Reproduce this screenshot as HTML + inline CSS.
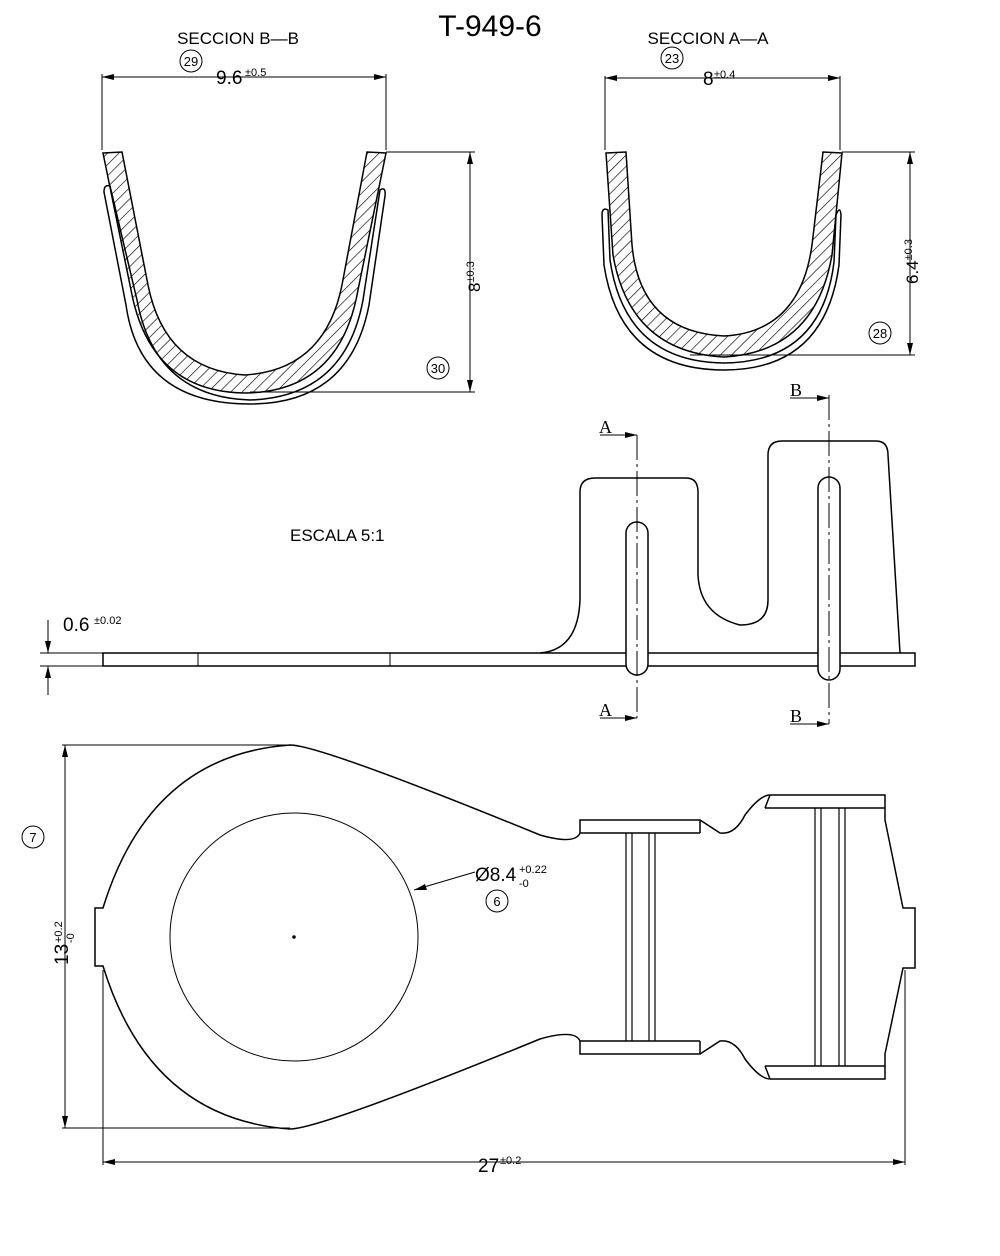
<!DOCTYPE html>
<html><head><meta charset="utf-8"><style>body{margin:0;background:#fff}svg{display:block}text{font-family:"Liberation Sans",sans-serif;fill:#000}</style></head><body>
<svg width="1000" height="1256" viewBox="0 0 1000 1256" xmlns="http://www.w3.org/2000/svg">
<defs>
<pattern id="h" width="8" height="8" patternUnits="userSpaceOnUse" patternTransform="rotate(45)"><line x1="0" y1="0" x2="0" y2="8" stroke="#000" stroke-width="1.3"/></pattern>
</defs>
<g fill="none" stroke="#000" stroke-width="1.5">
<text x="490" y="36" font-size="30" text-anchor="middle" stroke="none">T-949-6</text>
<text x="238" y="44" font-size="17" text-anchor="middle" stroke="none">SECCION  B—B</text>
<text x="708" y="44" font-size="17" text-anchor="middle" stroke="none">SECCION  A—A</text>
<circle cx="191" cy="61" r="11" stroke-width="1"/><text x="191" y="66" font-size="13" text-anchor="middle" stroke="none">29</text>
<circle cx="672" cy="58" r="11" stroke-width="1"/><text x="672" y="63" font-size="13" text-anchor="middle" stroke="none">23</text>
<!-- B-B -->
<g stroke-width="1">
<line x1="102" y1="77" x2="386" y2="77"/>
<path d="M102 74 V150 M386 74 V150 M386 152 H475 M250 392 H475"/>
<line x1="470" y1="152" x2="470" y2="392"/>
</g>
<path d="M114 74 L102 77 L114 80z M374 74 L386 77 L374 80z M467 164 L470 152 L473 164z M467 380 L470 392 L473 380z" fill="#000" stroke="none"/>
<text x="216" y="84" font-size="19" stroke="none">9.6</text><text x="245" y="76" font-size="11" stroke="none">±0.5</text>
<text transform="translate(480,292) rotate(-90)" font-size="17" stroke="none">8<tspan font-size="11" dy="-6">±0.3</tspan></text>
<circle cx="438" cy="368" r="11" stroke-width="1"/><text x="438" y="373" font-size="13" text-anchor="middle" stroke="none">30</text>
<path d="M103 153 L122 152 L148 285 Q165 370 245 375 Q325 370 342 285 L367 152 L386 153 L358 290 Q340 392 245 393 Q150 392 131 290 Z" fill="url(#h)"/>
<path d="M104 192 Q104 184 110 186 L137 300 Q155 397 250 400 Q345 397 363 300 L380 190 Q386 186 385 196 L369 305 Q350 404 250 404 Q140 404 126 305 Z"/>
<!-- A-A -->
<g stroke-width="1">
<path d="M605 76 V150 M840 76 V150 M842 152 H915 M690 355 H915"/>
<line x1="605" y1="78" x2="840" y2="78"/><line x1="910" y1="152" x2="910" y2="355"/>
</g>
<path d="M617 75 L605 78 L617 81z M828 75 L840 78 L828 81z M907 164 L910 152 L913 164z M907 343 L910 355 L913 343z" fill="#000" stroke="none"/>
<text x="703" y="85" font-size="19" stroke="none">8</text><text x="714" y="78" font-size="11" stroke="none">±0.4</text>
<text transform="translate(918,284) rotate(-90)" font-size="17" stroke="none">6.4<tspan font-size="11" dy="-6">±0.3</tspan></text>
<circle cx="880" cy="333" r="11" stroke-width="1"/><text x="880" y="338" font-size="13" text-anchor="middle" stroke="none">28</text>
<path d="M606 153 L626 152 L632 245 Q640 332 724 336 Q800 332 812 245 L823 152 L842 153 L832 255 Q815 352 724 357 Q630 352 613 255 Z" fill="url(#h)"/>
<path d="M602 215 Q602 207 608 210 L610 260 Q625 362 724 363 Q822 362 834 262 L836 215 Q840 205 841 215 L839 265 Q825 370 724 370 Q620 370 604 265 Z"/>
<!-- side view -->
<text x="290" y="541" font-size="17" stroke="none">ESCALA  5:1</text>
<rect x="103" y="653" width="812" height="13"/>
<path d="M198 653V666M390 653V666" stroke-width="1"/>
<path d="M540 653 Q578 650 580 600 V492 Q580 478 595 478 H686 Q698 478 698 492 V575 Q700 615 740 625 Q768 625 768 600 V455 Q768 441 782 441 H876 Q888 441 888 455 L900 653"/>
<line x1="545" y1="653" x2="900" y2="653" stroke-dasharray="10,6" stroke-width="1"/>
<rect x="626" y="522" width="22" height="153" rx="11" fill="#fff"/>
<rect x="818" y="477" width="22" height="203" rx="11" fill="#fff"/>
<g stroke-width="1">
<line x1="637" y1="435" x2="637" y2="718" stroke-dasharray="25,4,3,4"/>
<line x1="829" y1="395" x2="829" y2="724" stroke-dasharray="25,4,3,4"/>
<path d="M600 435H637 M600 718H637 M790 398H829 M790 724H829"/>
<path d="M48 620V653 M48 666V695 M40 653H103 M40 666H103"/>
</g>
<path d="M625 432 L637 435 L625 438z M625 715 L637 718 L625 721z M817 395 L829 398 L817 401z M817 721 L829 724 L817 727z M45 641 L48 653 L51 641z M45 678 L48 666 L51 678z" fill="#000" stroke="none"/>
<text x="599" y="433" font-size="18" stroke="none" style="font-family:'Liberation Serif',serif">A</text>
<text x="599" y="716" font-size="18" stroke="none" style="font-family:'Liberation Serif',serif">A</text>
<text x="790" y="396" font-size="18" stroke="none" style="font-family:'Liberation Serif',serif">B</text>
<text x="790" y="722" font-size="18" stroke="none" style="font-family:'Liberation Serif',serif">B</text>
<text x="63" y="631" font-size="19" stroke="none">0.6</text><text x="94" y="624" font-size="11" stroke="none">±0.02</text>
<!-- top view -->
<path d="M103 908 Q150 755 290 745 Q320 745 540 835 Q575 845 580 833 V820 H700 L720 833 Q735 835 745 815 Q760 795 770 795 H885 V820 L903 908 H915 V968 H903 L885 1054 V1079 H770 Q760 1079 745 1059 Q735 1039 720 1041 L700 1054 H580 V1041 Q575 1029 540 1039 Q320 1129 290 1129 Q150 1119 103 966 H95 V908 Z"/>
<path d="M580 833H700 M580 1041H700 M700 820V833 M700 1041V1054 M765 808H885 M765 1066H885 M770 795 L765 808 M770 1079 L765 1066"/>
<path d="M626 833V1041 M632 833V1041 M649 833V1041 M655 833V1041 M815 808V1066 M821 808V1066 M839 808V1066 M845 808V1066" stroke-width="1.2"/>
<circle cx="294" cy="937" r="124" stroke-width="1"/>
<circle cx="294" cy="937" r="1" fill="#000"/>
<g stroke-width="1">
<path d="M62 745H290 M62 1128H290 M65 745V1128 M103 970V1165 M905 970V1165 M103 1162H905 M475 872L414 890"/>
</g>
<path d="M62 757 L65 745 L68 757z M62 1116 L65 1128 L68 1116z M115 1159 L103 1162 L115 1165z M893 1159 L905 1162 L893 1165z M414 890 L425 884 L427 890z" fill="#000" stroke="none"/>
<circle cx="33" cy="837" r="11" stroke-width="1"/><text x="33" y="842" font-size="13" text-anchor="middle" stroke="none">7</text>
<text transform="translate(68,965) rotate(-90)" font-size="19" stroke="none">13</text>
<text transform="translate(62,943) rotate(-90)" font-size="11" stroke="none">+0.2</text>
<text transform="translate(74,943) rotate(-90)" font-size="11" stroke="none">-0</text>
<text x="478" y="1172" font-size="19" stroke="none">27</text><text x="500" y="1164" font-size="11" stroke="none">±0.2</text>
<text x="475" y="881" font-size="19" stroke="none">Ø8.4</text><text x="519" y="873" font-size="11" stroke="none">+0.22</text><text x="519" y="887" font-size="11" stroke="none">-0</text>
<circle cx="497" cy="901" r="11" stroke-width="1"/><text x="497" y="906" font-size="13" text-anchor="middle" stroke="none">6</text>
</g>
</svg>
</body></html>
